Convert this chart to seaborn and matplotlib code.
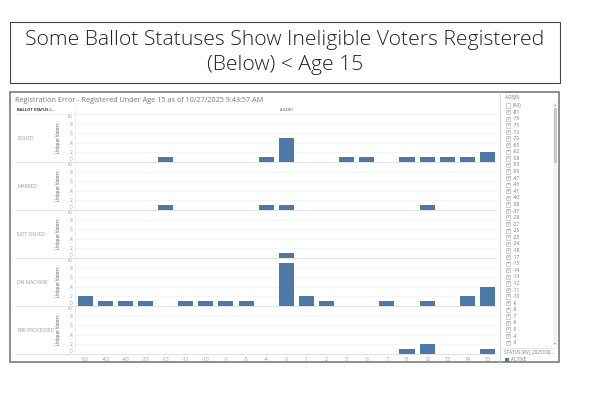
import matplotlib
matplotlib.use('Agg')
import matplotlib.pyplot as plt
import matplotlib.patches as mpatches
from matplotlib.lines import Line2D
import pandas as pd
import seaborn as sns

# Data
ages = ['-50', '-43', '-40', '-37', '-13', '-11', '-10', '-7', '-5', '-4', '0',
        '1', '2', '3', '6', '7', '11', '12', '13', '14', '15']
statuses = ['ISSUED', 'MARKED', 'NOT ISSUED', 'ON MACHINE', 'PRE-PROCESSED']
issued = [0, 0, 0, 0, 1, 0, 0, 0, 0, 1, 5, 0, 0, 1, 1, 0, 1, 1, 1, 1, 2]
marked = [0, 0, 0, 0, 1, 0, 0, 0, 0, 1, 1, 0, 0, 0, 0, 0, 0, 1, 0, 0, 0]
not_issued = [0, 0, 0, 0, 0, 0, 0, 0, 0, 0, 1, 0, 0, 0, 0, 0, 0, 0, 0, 0, 0]
on_machine = [2, 1, 1, 1, 0, 1, 1, 1, 1, 0, 9, 2, 1, 0, 0, 1, 0, 1, 0, 2, 4]
pre_processed = [0, 0, 0, 0, 0, 0, 0, 0, 0, 0, 0, 0, 0, 0, 0, 0, 1, 2, 0, 0, 1]
y_ticks = [0, 2, 4, 6, 8, 10]
filter_ages = ['(All)', '-81', '-76', '-75', '-72', '-70', '-65', '-62', '-58', '-55',
               '-50', '-47', '-43', '-41', '-40', '-38', '-37', '-28', '-27', '-26',
               '-25', '-24', '-18', '-17', '-15', '-14', '-13', '-12', '-11', '-10',
               '-9', '-8', '-7', '-6', '-5', '-4', '-3']

series = [issued, marked, not_issued, on_machine, pre_processed]
df = pd.DataFrame({
    'status': [s for s in statuses for _ in ages],
    'age': ages * len(statuses),
    'voters': [v for vals in series for v in vals],
})

sns.set_theme(style='white')
plt.rcParams['font.family'] = ['Open Sans', 'DejaVu Sans']

W, H = 600, 400
fig = plt.figure(figsize=(6, 4), dpi=100)
fig.patch.set_facecolor('white')


def fx(x):
    return x / W


def fy(y):
    return 1 - y / H


def rect(x0, y0, x1, y1, **kw):
    fig.add_artist(mpatches.Rectangle((fx(x0), fy(y1)), (x1 - x0) / W, (y1 - y0) / H,
                                      transform=fig.transFigure, **kw))


def line(x0, y0, x1, y1, **kw):
    fig.add_artist(Line2D([fx(x0), fx(x1)], [fy(y0), fy(y1)], transform=fig.transFigure, **kw))


# Slide title box
rect(10, 22, 560, 83, fill=False, edgecolor='#444444', lw=0.8)
fig.text(fx(285), fy(40), 'Some Ballot Statuses Show Ineligible Voters Registered',
         ha='center', va='center', fontsize=15.2, color='#222222', fontweight='light')
fig.text(fx(285), fy(65), '(Below) < Age 15',
         ha='center', va='center', fontsize=15.2, color='#222222', fontweight='light')

# Dashboard frame
rect(10, 92, 559, 362, fill=False, edgecolor='#7a7a7a', lw=1.2)
line(500, 92, 500, 362, color='#d0d0d0', lw=0.6)

fig.text(fx(15), fy(100), 'Registration Error - Registered Under Age 15 as of 10/27/2025 9:43:57 AM',
         ha='left', va='center', fontsize=5.2, color='#777777')
fig.text(fx(17), fy(110), 'BALLOT STATUS (...', ha='left', va='center', fontsize=3,
         color='#333333', fontweight='bold')
fig.text(fx(286), fy(110), 'AGE(R)', ha='center', va='center', fontsize=3, color='#555555')

# Panels
blue = '#4e79a7'
left, right = 75, 497.6
top0, ph = 114, 48
for i, status in enumerate(statuses):
    top = top0 + i * ph
    ax = fig.add_axes([fx(left), fy(top + ph), (right - left) / W, ph / H])
    sub = df[df['status'] == status]
    sns.barplot(data=sub, x='age', y='voters', order=ages, color=blue, width=0.75,
                errorbar=None, linewidth=0, saturation=1, ax=ax)
    ax.set_ylim(0, 10.1)
    ax.set_yticks(y_ticks)
    ax.set_yticklabels([str(t) for t in y_ticks])
    for lab, t in zip(ax.get_yticklabels(), y_ticks):
        if t == 10:
            lab.set_va('top')
        elif t == 0:
            lab.set_va('bottom')
    ax.tick_params(axis='y', labelsize=3.5, colors='#999999', length=0, pad=2)
    ax.tick_params(axis='x', labelsize=3.8, colors='#999999', length=0, pad=2)
    ax.set_xlabel('')
    ax.set_ylabel('Unique Voters', fontsize=3.3, color='#555555')
    ax.yaxis.set_label_coords(-0.033, 0.5)
    for t in y_ticks[1:-1]:
        ax.axhline(t, color='#f2f2f2', lw=0.5, zorder=0)
    for sp in ax.spines.values():
        sp.set_visible(False)
    if i < len(statuses) - 1:
        ax.tick_params(labelbottom=False)
    ax.set_facecolor('none')
    fig.text(fx(17), fy(top + ph / 2), status, ha='left', va='center',
             fontsize=3.5, color='#999999')
    line(15, top + ph, 497, top + ph, color='#e2e2e2', lw=0.7)

line(15, 113.5, 497, 113.5, color='#eeeeee', lw=0.5)
line(left, 106, left, 354, color='#e8e8e8', lw=0.5)

# Filter panel
fig.text(fx(505), fy(97), 'AGE(R)', ha='left', va='center', fontsize=3.3, color='#777777')
step = (342.7 - 105.7) / (len(filter_ages) - 1)
for k, lab in enumerate(filter_ages):
    yy = 105.7 + k * step
    rect(505.5, yy - 2.2, 509.8, yy + 2.2, fill=False, edgecolor='#aaaaaa', lw=0.4)
    if lab != '(All)':
        fig.text(fx(507.7), fy(yy), '\u2713', ha='center', va='center', fontsize=3,
                 color='#555555', family='DejaVu Sans')
    fig.text(fx(512.5), fy(yy), lab, ha='left', va='center', fontsize=3.5, color='#777777')

# Scrollbar
rect(553.3, 103, 557.3, 345, facecolor='#f3f3f3', edgecolor='none')
rect(553.6, 108, 557.0, 163, facecolor='#c9c9c9', edgecolor='none')
fig.text(fx(555.3), fy(104.5), '\u25b4', ha='center', va='center', fontsize=3, color='#999999',
         family='DejaVu Sans')
fig.text(fx(555.3), fy(343), '\u25be', ha='center', va='center', fontsize=3, color='#999999',
         family='DejaVu Sans')

line(502, 347.7, 557, 347.7, color='#dddddd', lw=0.5)
fig.text(fx(504), fy(352.7), 'STATUS (RV)_2025100...', ha='left', va='center', fontsize=3.3,
         color='#777777')
rect(505, 357.5, 509, 361.5, facecolor=blue, edgecolor='none')
fig.text(fx(511), fy(359.8), 'ACTIVE', ha='left', va='center', fontsize=3.3, color='#777777')

fig.savefig('out.png', dpi=100, facecolor='white')
